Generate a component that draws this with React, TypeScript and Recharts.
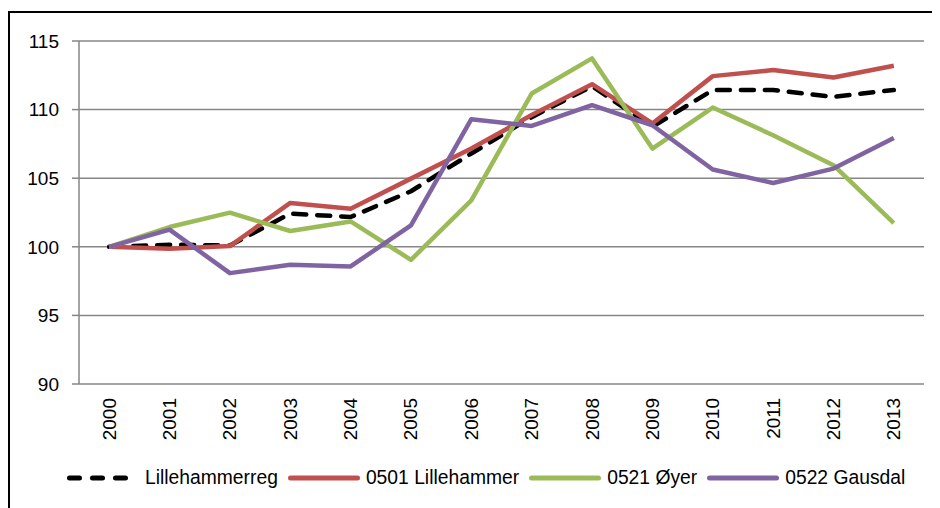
import React from "react";
import { LineChart, Line, XAxis, YAxis, CartesianGrid, Legend } from "recharts";

const years = [2000, 2001, 2002, 2003, 2004, 2005, 2006, 2007, 2008, 2009, 2010, 2011, 2012, 2013];
const lillehammerreg = [100, 100.15, 100.1, 102.42, 102.17, 104.05, 106.8, 109.45, 111.7, 108.75, 111.43, 111.43, 110.93, 111.43];
const lillehammer0501 = [100, 99.85, 100.05, 103.2, 102.78, 104.97, 107.16, 109.6, 111.85, 108.99, 112.44, 112.88, 112.34, 113.19];
const oyer0521 = [100, 101.44, 102.49, 101.15, 101.85, 99.05, 103.39, 111.17, 113.73, 107.16, 110.15, 108.13, 105.95, 101.73];
const gausdal0522 = [100, 101.25, 98.08, 98.69, 98.57, 101.56, 109.3, 108.81, 110.32, 108.86, 105.63, 104.65, 105.7, 107.93];
const yTicks = [90, 95, 100, 105, 110, 115];

const series = [
  { key: "reg", name: "Lillehammerreg", color: "#000000", dash: "13 11", legendDash: "10 13", values: lillehammerreg },
  { key: "l0501", name: "0501 Lillehammer", color: "#C0504D", dash: undefined, legendDash: undefined, values: lillehammer0501 },
  { key: "o0521", name: "0521 Øyer", color: "#9BBB59", dash: undefined, legendDash: undefined, values: oyer0521 },
  { key: "g0522", name: "0522 Gausdal", color: "#8064A2", dash: undefined, legendDash: undefined, values: gausdal0522 },
];

const data = years.map((year, i) => {
  const row: Record<string, number> = { year };
  series.forEach((s) => {
    row[s.key] = s.values[i];
  });
  return row;
});

const xDomain = [years[0] - 0.5, years[years.length - 1] + 0.5];
const boundaries = [...years.map((y) => y - 0.5), years[years.length - 1] + 0.5];

const GRAY = "#868686";
const FONT = "'Liberation Sans', Arial, sans-serif";

const XTick = (props: any) => {
  const { x, y, payload } = props;
  return (
    <text
      x={x}
      y={y}
      transform={`rotate(-90 ${x} ${y})`}
      textAnchor="end"
      dominantBaseline="central"
      fontSize={19}
      fill="#000"
      fontFamily={FONT}
    >
      {payload.value}
    </text>
  );
};

const EmptyTick = () => <g />;

const renderLegend = () => (
  <div
    style={{
      height: 40,
      display: "flex",
      alignItems: "flex-start",
      paddingLeft: 49,
      fontFamily: FONT,
      fontSize: 19.3,
      color: "#000",
      lineHeight: "20px",
    }}
  >
    {series.map((s) => (
      <div key={s.key} style={{ display: "flex", alignItems: "center", height: 20 }}>
        <svg width={72} height={10} style={{ display: "block" }}>
          <line
            x1={2.5}
            y1={5}
            x2={69.5}
            y2={5}
            stroke={s.color}
            strokeWidth={5}
            strokeLinecap="round"
            strokeDasharray={s.legendDash}
          />
        </svg>
        <span style={{ marginLeft: 6, marginRight: 10, whiteSpace: "nowrap" }}>{s.name}</span>
      </div>
    ))}
  </div>
);

export default function App() {
  return (
    <div style={{ position: "relative", width: 932, height: 500, fontFamily: FONT }}>
      <div
        style={{
          position: "absolute",
          left: 0,
          top: 3,
          width: 930,
          height: 497,
          borderTop: "2px solid #000",
          borderLeft: "2px solid #000",
          boxSizing: "border-box",
        }}
      />
      <div style={{ position: "absolute", left: 0, top: 0 }}>
        <LineChart width={932} height={500} data={data} margin={{ top: 33, right: 16, left: 10, bottom: 0 }}>
          <CartesianGrid horizontal vertical={false} stroke={GRAY} strokeWidth={1.5} xAxisId="ticks" />
          <XAxis
            xAxisId="ticks"
            type="number"
            dataKey="year"
            domain={xDomain}
            ticks={boundaries}
            interval={0}
            tick={EmptyTick}
            tickSize={6}
            tickLine={{ stroke: GRAY, strokeWidth: 1.5 }}
            axisLine={{ stroke: GRAY, strokeWidth: 1.5 }}
            height={0}
          />
          <XAxis
            xAxisId="main"
            type="number"
            dataKey="year"
            domain={xDomain}
            ticks={years}
            interval={0}
            tick={XTick}
            tickSize={0}
            tickMargin={14}
            tickLine={false}
            axisLine={false}
            height={84}
          />
          <YAxis
            domain={[90, 115]}
            ticks={yTicks}
            interval={0}
            width={61}
            tickSize={7}
            tickMargin={13}
            tick={{ fontSize: 19, fill: "#000", fontFamily: FONT }}
            tickLine={{ stroke: GRAY, strokeWidth: 1.5 }}
            axisLine={{ stroke: GRAY, strokeWidth: 1.5 }}
          />
          <Legend verticalAlign="bottom" content={renderLegend} />
          {series.map((s) => (
            <Line
              key={s.key}
              xAxisId="main"
              type="linear"
              dataKey={s.key}
              name={s.name}
              stroke={s.color}
              strokeWidth={4.5}
              strokeDasharray={s.dash}
              strokeLinecap={s.dash ? "round" : "butt"}
              strokeLinejoin="round"
              dot={false}
              activeDot={false}
              isAnimationActive={false}
            />
          ))}
        </LineChart>
      </div>
    </div>
  );
}
